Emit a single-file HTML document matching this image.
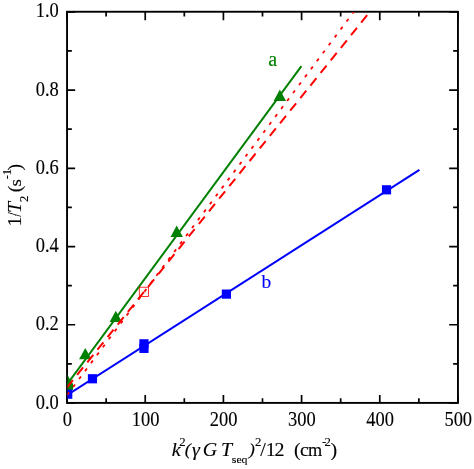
<!DOCTYPE html>
<html><head><meta charset="utf-8"><title>chart</title><style>html,body{margin:0;padding:0;background:#fff;}svg{display:block;will-change:transform;}text{font-family:"Liberation Serif",serif;stroke-width:0.12px;}</style>
</head><body>
<svg width="474" height="469" viewBox="0 0 474 469">
<rect width="474" height="469" fill="#fff"/>
<defs><clipPath id="c"><rect x="67.45" y="12.15" width="390.10" height="390.35"/></clipPath></defs>
<rect x="67.05" y="11.75" width="390.9" height="391.15" fill="none" stroke="#000" stroke-width="1.9"/>
<path d="M67.05 402.9v-7.9M67.05 11.75v8.5M106.14 402.9v-4.6M106.14 11.75v4.8M145.23 402.9v-7.9M145.23 11.75v8.5M184.32 402.9v-4.6M184.32 11.75v4.8M223.41 402.9v-7.9M223.41 11.75v8.5M262.50 402.9v-4.6M262.50 11.75v4.8M301.59 402.9v-7.9M301.59 11.75v8.5M340.68 402.9v-4.6M340.68 11.75v4.8M379.77 402.9v-7.9M379.77 11.75v8.5M418.86 402.9v-4.6M418.86 11.75v4.8M457.95 402.9v-7.9M457.95 11.75v8.5M67.05 403.00h8.1M457.95 403.00h-8.8M67.05 363.88h4.8M457.95 363.88h-4.8M67.05 324.77h8.1M457.95 324.77h-8.8M67.05 285.65h4.8M457.95 285.65h-4.8M67.05 246.54h8.1M457.95 246.54h-8.8M67.05 207.42h4.8M457.95 207.42h-4.8M67.05 168.31h8.1M457.95 168.31h-8.8M67.05 129.19h4.8M457.95 129.19h-4.8M67.05 90.08h8.1M457.95 90.08h-8.8M67.05 50.97h4.8M457.95 50.97h-4.8M67.05 11.85h8.1M457.95 11.85h-8.8" stroke="#000" stroke-width="1.7" fill="none"/>
<g clip-path="url(#c)">
<path d="M85.28 347.94L91.48 359.24L79.08 359.24Z" fill="#008000"/>
<path d="M115.80 310.74L122.00 322.04L109.60 322.04Z" fill="#008000"/>
<path d="M176.71 225.58L182.91 236.88L170.51 236.88Z" fill="#008000"/>
<path d="M279.85 89.62L286.05 100.92L273.65 100.92Z" fill="#008000"/>
<path d="M67.2 373.9L70.2 380L73.1 384L73.1 389.9L67 389.9Z" fill="#008000"/>
<rect x="63.10" y="389.60" width="9.2" height="9.2" fill="#0000ff"/>
<rect x="87.87" y="374.16" width="9.2" height="9.2" fill="#0000ff"/>
<rect x="139.37" y="343.76" width="9.2" height="9.2" fill="#0000ff"/>
<rect x="139.37" y="339.22" width="9.2" height="9.2" fill="#0000ff"/>
<rect x="221.81" y="289.51" width="9.2" height="9.2" fill="#0000ff"/>
<rect x="381.91" y="185.21" width="9.2" height="9.2" fill="#0000ff"/>
<path d="M67.00 384.47L301.42 66.16" stroke="#008000" stroke-width="2" fill="none"/>
<path d="M67.00 395.10L419.41 169.85" stroke="#0000ff" stroke-width="2" fill="none"/>
<path d="M67.00 387.44L375.65 4.66" stroke="#ff0000" stroke-width="2" fill="none" stroke-dasharray="9.5 6.66"/>
<path d="M67.00 395.17L360.02 3.52" stroke="#ff0000" stroke-width="1.8" fill="none" stroke-dasharray="3.2 6.723" stroke-dashoffset="-0.3"/>
<rect x="139.29" y="287.21" width="9.2" height="9.2" fill="none" stroke="#ff0000" stroke-width="0.8"/>
</g>
<g font-size="20.3" fill="#000" stroke="#000">
<text transform="translate(67.35 425.8) scale(0.91 1)" text-anchor="middle">0</text>
<text transform="translate(145.53 425.8) scale(0.91 1)" text-anchor="middle">100</text>
<text transform="translate(223.71 425.8) scale(0.91 1)" text-anchor="middle">200</text>
<text transform="translate(301.89 425.8) scale(0.91 1)" text-anchor="middle">300</text>
<text transform="translate(380.07 425.8) scale(0.91 1)" text-anchor="middle">400</text>
<text transform="translate(458.25 425.8) scale(0.91 1)" text-anchor="middle">500</text>
<text transform="translate(58.8 408.50) scale(0.91 1)" text-anchor="end">0.0</text>
<text transform="translate(58.8 330.27) scale(0.91 1)" text-anchor="end">0.2</text>
<text transform="translate(58.8 252.04) scale(0.91 1)" text-anchor="end">0.4</text>
<text transform="translate(58.8 173.81) scale(0.91 1)" text-anchor="end">0.6</text>
<text transform="translate(58.8 95.58) scale(0.91 1)" text-anchor="end">0.8</text>
<text transform="translate(58.8 17.35) scale(0.91 1)" text-anchor="end">1.0</text>
</g>
<text x="268.2" y="65.5" font-size="20" fill="#008000" stroke="#008000">a</text>
<text x="261.6" y="287.6" font-size="19.5" fill="#0000ff" stroke="#0000ff">b</text>
<g font-size="20" fill="#000" stroke="#000" transform="translate(0 456.2) scale(1 0.925)">
<text x="171.8" y="0" font-style="italic">k</text>
<text x="179.3" y="-11.0" font-size="12.8">2</text>
<text x="184.8" y="-0.8" font-style="italic" font-size="18.4">(</text>
<text x="192.0" y="0" font-style="italic">γ</text>
<text x="202.8" y="0" font-style="italic">G</text>
<text x="220.9" y="0" font-style="italic">T</text>
<text x="231.8" y="7.45" font-size="11.8">seq</text>
<text x="248.8" y="-0.8" font-style="italic" font-size="18.4">)</text>
<text x="254.9" y="-11.0" font-size="12.8">2</text>
<text x="260.2" y="0">/</text>
<text x="265.7" y="0">1</text>
<text x="274.4" y="0">2</text>
<text x="294.0" y="-0.5">(</text>
<text x="300.1" y="0">c</text>
<text x="307.9" y="0" textLength="14.2" lengthAdjust="spacingAndGlyphs">m</text>
<text x="321.9" y="-11.0" font-size="12.8">-</text>
<text x="324.6" y="-11.0" font-size="12.8">2</text>
<text x="330.4" y="-0.5">)</text>
</g>
<g font-size="20" fill="#000" stroke="#000" transform="translate(21.1 0) rotate(-90) scale(1 0.925)">
<text x="-226.50" y="0">1</text>
<text transform="translate(-216.70 0) scale(0.8 1)">/</text>
<text x="-213.10" y="0" font-style="italic">T</text>
<text x="-202.00" y="7.9" font-size="12.8">2</text>
<text x="-192.30" y="-0.5">(</text>
<text x="-186.40" y="0" font-size="19">s</text>
<text x="-179.30" y="-11.1" font-size="12.8">-</text>
<text x="-175.20" y="-11.1" font-size="12.8">1</text>
<text x="-170.50" y="-0.5">)</text>
</g>
</svg></body></html>
